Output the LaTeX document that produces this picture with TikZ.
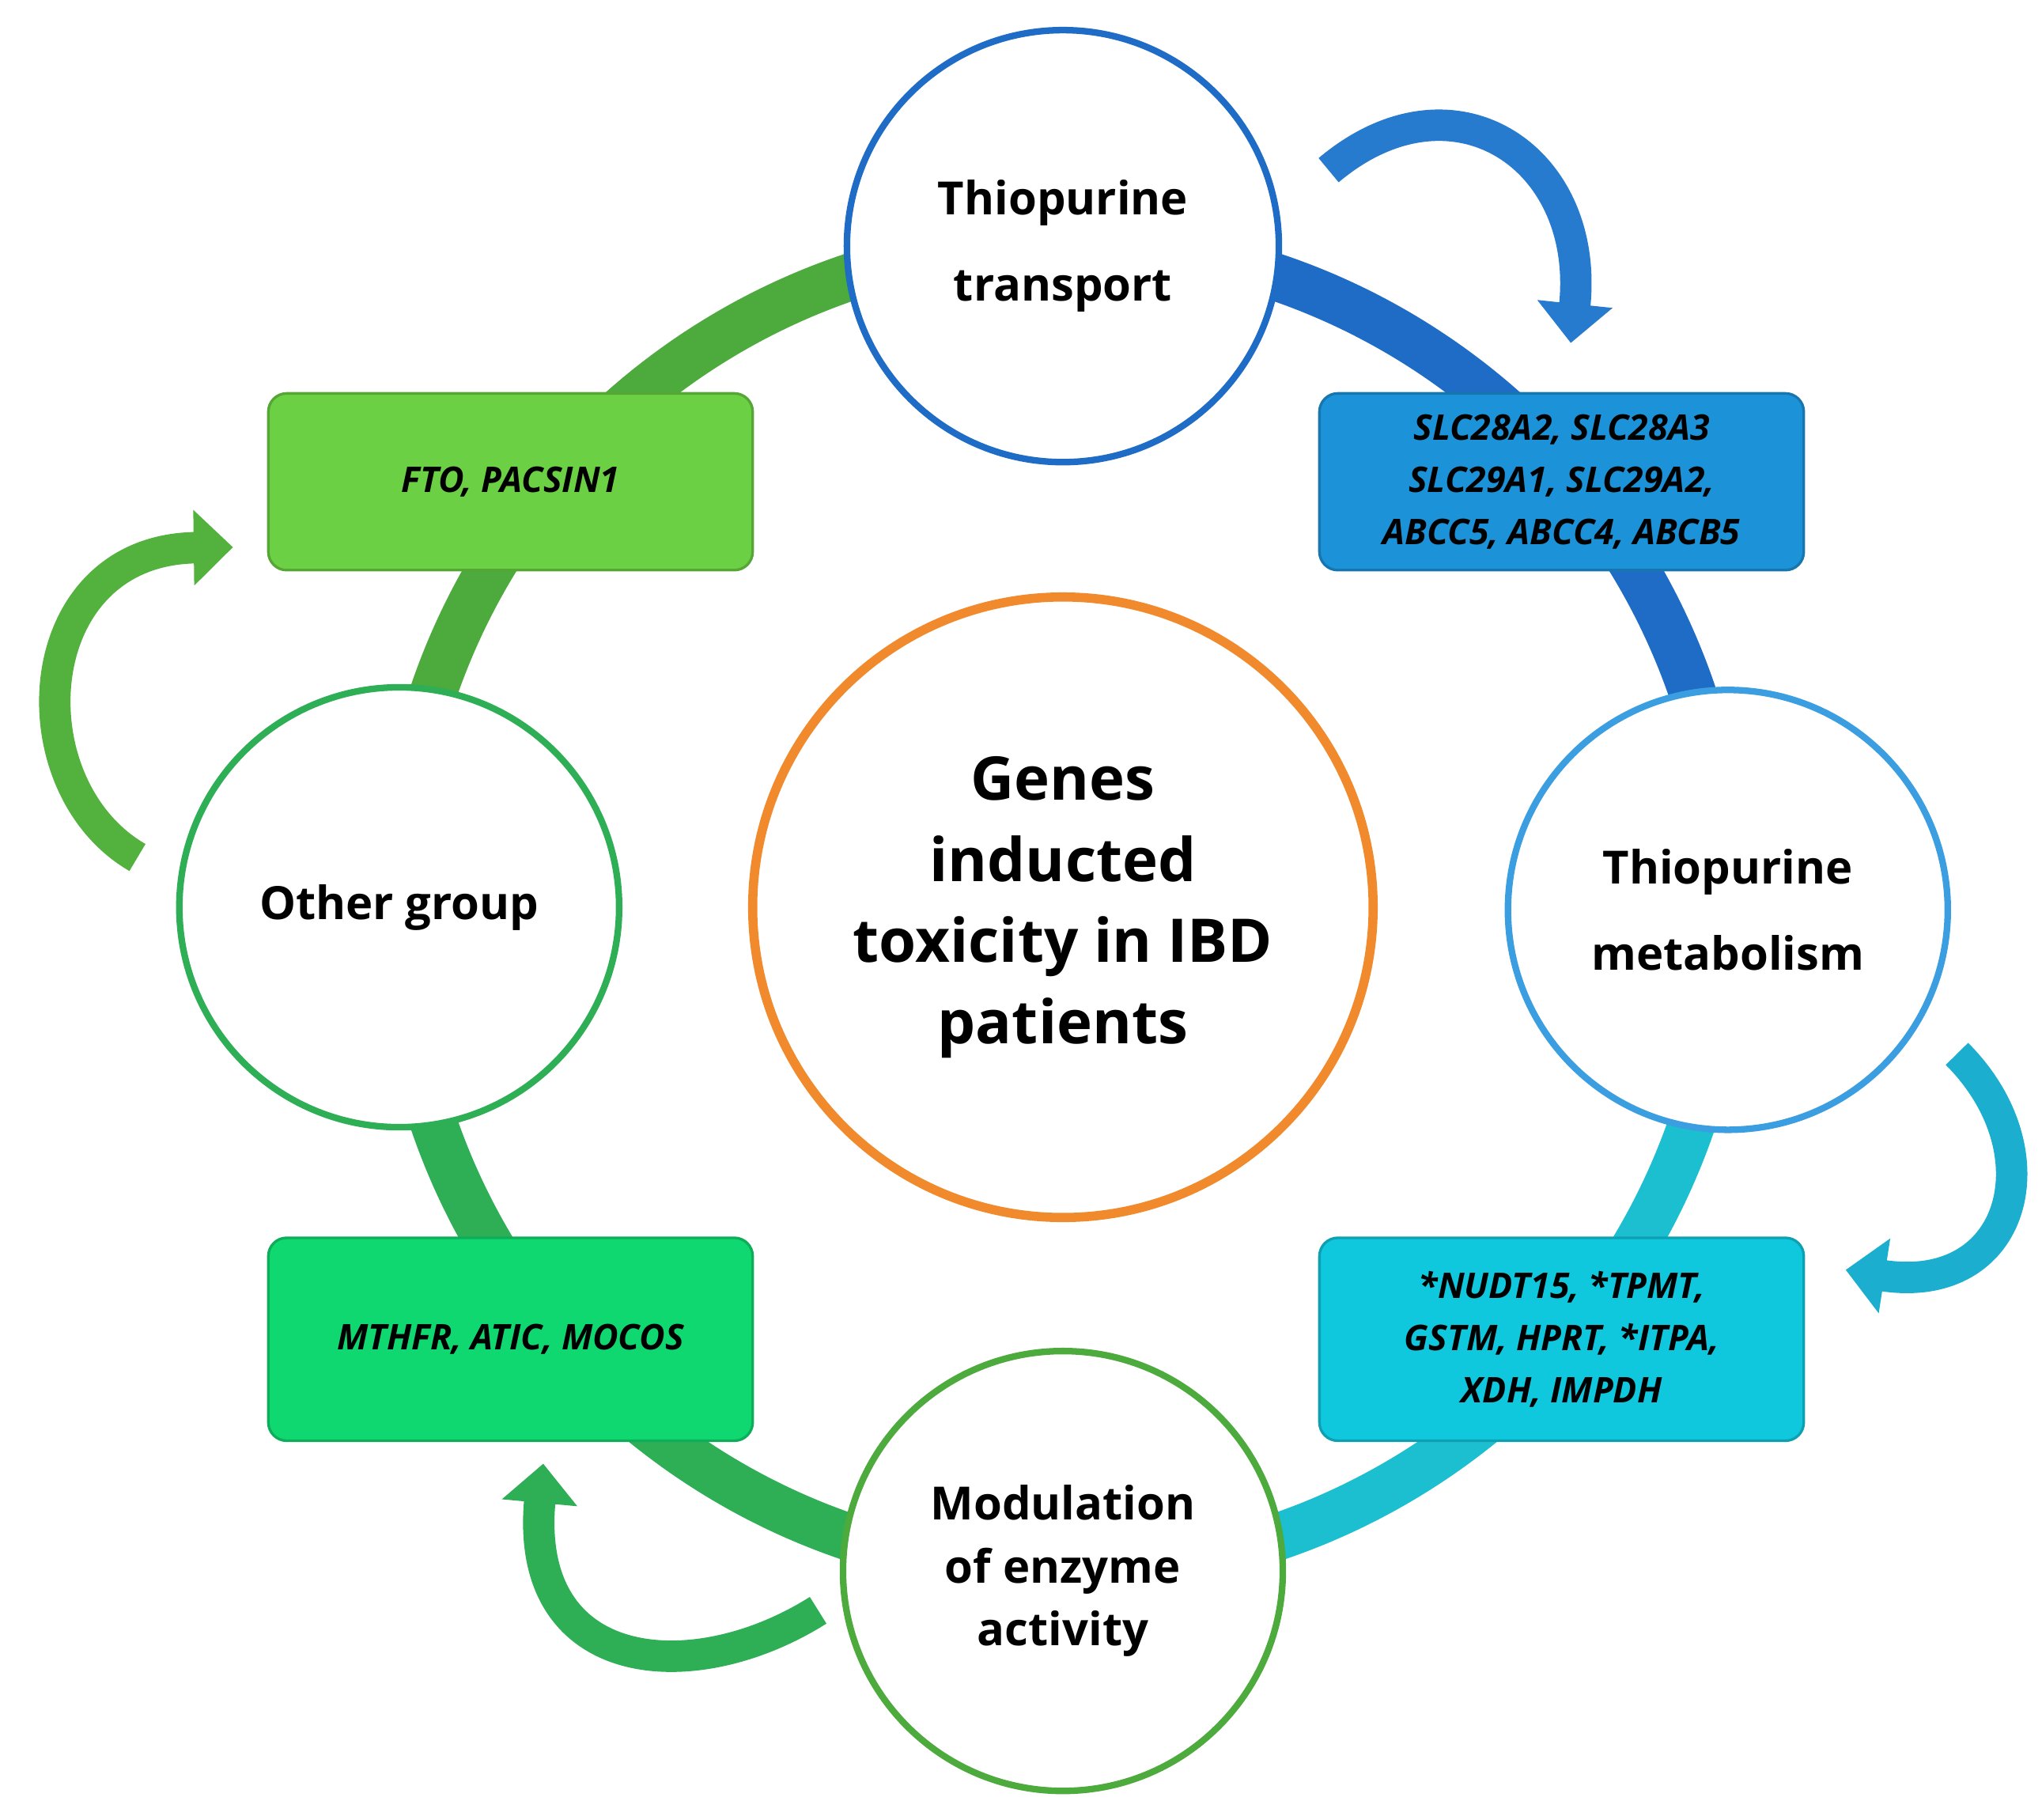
\documentclass[tikz,border=0pt]{standalone}
\usepackage{fontspec}
\setmainfont{Open Sans}
\usetikzlibrary{arrows.meta}
\definecolor{cblue}{HTML}{1E6CC6}
\definecolor{clblue}{HTML}{3A9EE0}
\definecolor{ccyan}{HTML}{1CBFD0}
\definecolor{cgreenA}{HTML}{4DAA3C}
\definecolor{cgreenB}{HTML}{2EAF55}
\definecolor{corange}{HTML}{F08A2C}
\definecolor{boxTR}{HTML}{1C93D8}
\definecolor{boxBR}{HTML}{10C8DE}
\definecolor{boxTL}{HTML}{6CD044}
\definecolor{boxBL}{HTML}{10D870}
\begin{document}
\begin{tikzpicture}[x=1pt,y=-1pt,
  circ/.style={circle,fill=white,line width=5pt,minimum size=#1,inner sep=0pt,align=center,font=\bfseries\fontsize{35}{66}\selectfont},
  gbox/.style={rounded corners=14pt,minimum width=370pt,minimum height=#1,align=center,line width=2pt,font=\bfseries\itshape\fontsize{27}{40}\selectfont},
  carrow/.style={line width=24pt,-{Triangle[length=30pt,width=56pt]}}]
\useasboundingbox (0,0) rectangle (1560,1390);
% ring
\draw[line width=36pt,cgreenA] (812,693) ++(180:508) arc[start angle=180,end angle=270,radius=508];
\draw[line width=36pt,cblue] (812,693) ++(-90:508) arc[start angle=-90,end angle=0,radius=508];
\draw[line width=36pt,ccyan] (812,693) ++(0:508) arc[start angle=0,end angle=90,radius=508];
\draw[line width=36pt,cgreenB] (812,693) ++(90:508) arc[start angle=90,end angle=180,radius=508];
% boxes
\node[gbox=135pt,fill=boxTR,draw=boxTR!80!black] (btr) at (1193,368) {SLC28A2, SLC28A3\\SLC29A1, SLC29A2,\\ABCC5, ABCC4, ABCB5};
\node[gbox=155pt,fill=boxBR,draw=boxBR!80!black] (bbr) at (1193,1023) {*NUDT15, *TPMT,\\GSTM, HPRT, *ITPA,\\XDH, IMPDH};
\node[gbox=135pt,fill=boxTL,draw=boxTL!80!black] (btl) at (390,368) {FTO, PACSIN1};
\node[gbox=155pt,fill=boxBL,draw=boxBL!80!black] (bbl) at (390,1023) {MTHFR, ATIC, MOCOS};
% circles
\node[circ=330pt,draw=cblue] (top) at (812,188) {Thiopurine\\transport};
\node[circ=336pt,draw=clblue] (right) at (1320,695) {Thiopurine\\metabolism};
\node[circ=336pt,draw=cgreenA,font=\bfseries\fontsize{35}{48}\selectfont] (bot) at (812,1200) {Modulation\\of enzyme\\activity};
\node[circ=336pt,draw=cgreenB] (left) at (305,693) {Other group};
\node[circ=474pt,draw=corange,line width=7pt,font=\bfseries\fontsize{46}{62}\selectfont] (ctr) at (812,693) {Genes\\inducted\\toxicity in IBD\\patients};
% curved arrows
\coordinate (a1s) at (1015,130); \coordinate (a1e) at (1200,262);
\draw[carrow,cblue!70!clblue] (a1s) .. controls (1110,50) and (1215,120) .. (a1e);
\coordinate (a2s) at (1495,805); \coordinate (a2e) at (1410,970);
\draw[carrow,ccyan!80!cblue] (a2s) .. controls (1570,880) and (1540,990) .. (a2e);
\coordinate (a3s) at (625,1230); \coordinate (a3e) at (415,1118);
\draw[carrow,cgreenB] (a3s) .. controls (530,1290) and (400,1280) .. (a3e);
\coordinate (a4s) at (105,655); \coordinate (a4e) at (178,418);
\draw[carrow,cgreenA!80!boxTL] (a4s) .. controls (10,600) and (20,420) .. (a4e);
\end{tikzpicture}
\end{document}
